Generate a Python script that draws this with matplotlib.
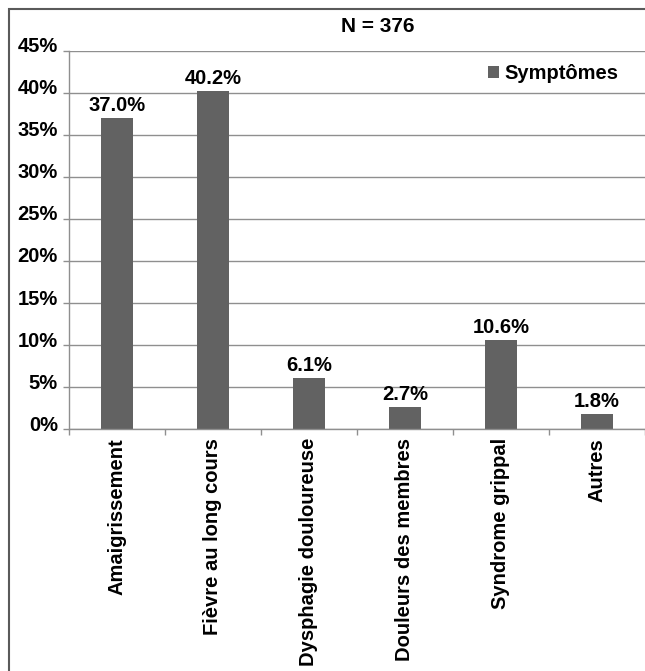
import matplotlib
matplotlib.use('Agg')
import matplotlib.pyplot as plt
import matplotlib.transforms as mtransforms
from matplotlib.patches import Rectangle
from matplotlib.ticker import FixedLocator

plt.rcParams['font.family'] = ['Liberation Sans', 'DejaVu Sans']
plt.rcParams['font.weight'] = 'bold'

# symptom frequencies (% of patients, N = 376)
symptomes = ['Amaigrissement', 'Fièvre au long cours', 'Dysphagie douloureuse',
             'Douleurs des membres', 'Syndrome grippal', 'Autres']
pourcentages = [37.0, 40.2, 6.1, 2.7, 10.6, 1.8]
y_ticks = [0, 5, 10, 15, 20, 25, 30, 35, 40, 45]

bar_col = '#626262'
grid_col = '#8f8f8f'
fs = 14.5

fig = plt.figure(figsize=(6.45, 6.71), dpi=100)
ax = fig.add_axes([69/645, 1 - 429.3/671, 576/645, 378.8/671])

x = range(len(symptomes))
bars = ax.bar(x, pourcentages, width=0.33, color=bar_col, label='Symptômes', zorder=3)

# value labels on top of each bar
for b, v in zip(bars, pourcentages):
    ax.annotate('%.1f%%' % v, (b.get_x() + b.get_width()/2, v),
                xytext=(0, 2), textcoords='offset points',
                ha='center', va='bottom', fontsize=fs, fontweight='bold')

ax.set_xlim(-0.5, len(symptomes) - 0.5)
ax.set_ylim(0, 45)
ax.set_yticks(y_ticks)
ax.set_yticklabels(['%d%%' % t for t in y_ticks], fontsize=fs, fontweight='bold')
ax.set_xticks(list(x))
ax.set_xticklabels(symptomes, rotation=90, fontsize=fs, fontweight='bold', va='top')
ax.xaxis.set_minor_locator(FixedLocator([i - 0.5 for i in range(len(symptomes) + 1)]))
ax.tick_params(axis='x', which='major', length=0, pad=6.3)
ax.tick_params(axis='x', which='minor', length=4, color=grid_col, width=1)
ax.tick_params(axis='y', length=4, color=grid_col, width=1, pad=4)

# lift the y labels a bit above their gridlines
shift = mtransforms.ScaledTranslation(0, 6/100, fig.dpi_scale_trans)
for lab in ax.get_yticklabels():
    lab.set_transform(lab.get_transform() + shift)

ax.yaxis.grid(True, color=grid_col, linewidth=1, zorder=0)
ax.set_axisbelow(True)
for s in ['top', 'right']:
    ax.spines[s].set_visible(False)
for s in ['left', 'bottom']:
    ax.spines[s].set_color(grid_col)
    ax.spines[s].set_linewidth(1)
    ax.spines[s].set_zorder(4)

ax.legend(loc='center left', bbox_to_anchor=(0.713, 0.94), frameon=False,
          handlelength=0.55, handleheight=0.55, handletextpad=0.3,
          borderaxespad=0, prop={'size': fs, 'weight': 'bold'})

fig.text(378/645, 1 - 27/671, 'N = 376', ha='center', va='center',
         fontsize=15, fontweight='bold')

# outer border around the whole chart
frame = Rectangle((8.5/645, -0.1), 1.2, 1.1 - 9.3/671, transform=fig.transFigure,
                  fill=False, edgecolor='#5a5a5a', linewidth=1.5, clip_on=False)
fig.patches.append(frame)

fig.savefig('out.png', dpi=100)
